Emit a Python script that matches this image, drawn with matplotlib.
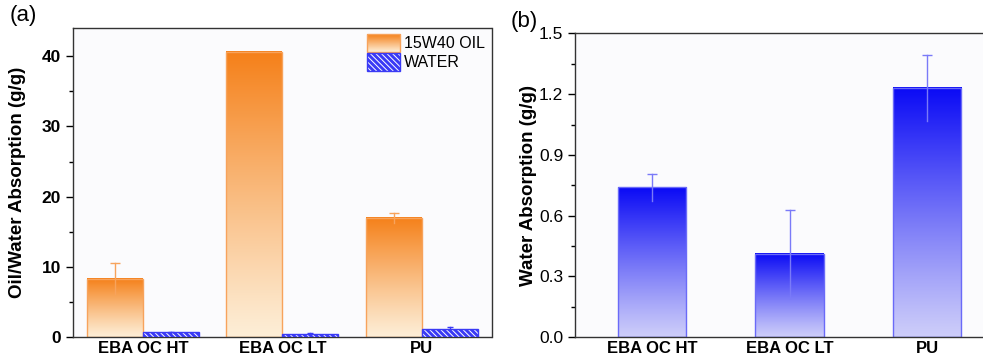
import matplotlib.pyplot as plt
import numpy as np
from matplotlib.patches import Rectangle
from matplotlib.ticker import MultipleLocator

plt.rcParams['font.family'] = ['Liberation Sans', 'DejaVu Sans']
plt.rcParams['hatch.linewidth'] = 0.7

samples = ['EBA OC HT', 'EBA OC LT', 'PU']
oil = [8.35, 40.6, 17.0]
oil_err = [2.15, 0.0, 0.7]
water = [0.74, 0.41, 1.23]
water_err = [0.067, 0.217, 0.165]

orange_top = np.array([245, 128, 25]) / 255
orange_bot = np.array([253, 238, 215]) / 255
blue_top = np.array([10, 10, 245]) / 255
blue_bot = np.array([205, 205, 250]) / 255


def grad_bar(ax, x0, w, h, top, bot, edge, z=2):
    t = np.linspace(0, 1, 200)[:, None] ** 1.1
    img = bot[None, :] + (top - bot)[None, :] * t
    ax.imshow(img[:, None, :], extent=[x0, x0 + w, 0, h], origin='lower', aspect='auto',
              zorder=z, interpolation='bilinear')
    ax.add_patch(Rectangle((x0, 0), w, h, fill=False, ec=edge, lw=1.0, zorder=z + 0.1))


def top_err(ax, x, y, e, color, cap):
    ax.plot([x, x], [y - e, y + e], color=color, lw=1.0, zorder=5)
    ax.plot([x], [y + e], marker='_', ms=cap, mew=1.0, color=color, zorder=5)


fig = plt.figure(figsize=(9.83, 3.57), dpi=100)
ax1 = fig.add_axes([0.0743, 0.0552, 0.4257, 0.8664])
ax2 = fig.add_axes([0.585, 0.0552, 0.4364, 0.8515])

x = np.arange(1, 4)

# (a) oil / water
bw = 0.4
for i in range(3):
    grad_bar(ax1, x[i] - bw, bw, oil[i], orange_top, orange_bot, '#f7a35c')
    if oil_err[i] > 0:
        top_err(ax1, x[i] - bw / 2, oil[i], oil_err[i], '#f7a35c', 7)
    ax1.bar(x[i] + bw / 2, water[i], bw, color='#3a3af5', edgecolor='white',
            hatch='\\\\\\\\\\\\', lw=0, zorder=3)
    ax1.add_patch(Rectangle((x[i], 0), bw, water[i], fill=False, ec='#3a3af5', lw=1.0, zorder=3.1))
    top_err(ax1, x[i] + bw / 2, water[i], water_err[i], '#3a3af5', 5)

# legend drawn by hand so the swatches can keep the gradient / hatch
lx0, lx1 = 0.702, 0.781
g = np.linspace(0, 1, 50)[:, None]
lg = orange_bot[None, :] + (orange_top - orange_bot)[None, :] * g
ax1.imshow(lg[:, None, :], extent=[lx0, lx1, 0.923, 0.98], origin='lower', aspect='auto',
           transform=ax1.transAxes, zorder=6)
ax1.add_patch(Rectangle((lx0, 0.923), lx1 - lx0, 0.057, transform=ax1.transAxes, fill=False,
                        ec='#f7a35c', lw=1.0, zorder=7))
ax1.add_patch(Rectangle((lx0, 0.862), lx1 - lx0, 0.057, transform=ax1.transAxes,
                        fc='#3a3af5', ec='white', hatch='\\\\\\\\\\\\', lw=0, zorder=6))
ax1.add_patch(Rectangle((lx0, 0.862), lx1 - lx0, 0.057, transform=ax1.transAxes, fill=False,
                        ec='#3a3af5', lw=1.0, zorder=7))
ax1.text(0.791, 0.951, '15W40 OIL', transform=ax1.transAxes, va='center', fontsize=11.5)
ax1.text(0.791, 0.890, 'WATER', transform=ax1.transAxes, va='center', fontsize=11.5)
ax1.set_xlim(0.5, 3.5)
ax1.set_ylim(0, 44)
ax1.yaxis.set_major_locator(MultipleLocator(10))
ax1.yaxis.set_minor_locator(MultipleLocator(5))
ax1.set_ylabel('Oil/Water Absorption (g/g)', fontsize=13.5, fontweight='bold')
ax1.yaxis.set_label_coords(-0.112, 0.5)

# (b) water
bw2 = 0.5
for i in range(3):
    grad_bar(ax2, x[i] - bw2 / 2, bw2, water[i], blue_top, blue_bot, '#6a6af8')
    top_err(ax2, x[i], water[i], water_err[i], '#7a7af8', 7)
ax2.set_xlim(0.44, 3.56)
ax2.set_ylim(0, 1.5)
ax2.yaxis.set_major_locator(MultipleLocator(0.3))
ax2.yaxis.set_minor_locator(MultipleLocator(0.15))
ax2.set_ylabel('Water Absorption (g/g)', fontsize=13.5, fontweight='bold')
ax2.yaxis.set_label_coords(-0.088, 0.5)

for ax, bold in ((ax1, 'bold'), (ax2, 'normal')):
    ax.set_facecolor('#fbfbfd')
    ax.set_xticks(x)
    ax.set_xticklabels(samples, fontsize=12, fontweight='bold')
    ax.tick_params(axis='x', length=0, pad=3)
    ax.tick_params(axis='y', which='major', direction='out', length=5, width=1, labelsize=12.5)
    ax.tick_params(axis='y', which='minor', direction='out', length=3, width=1)
    for lab in ax.get_yticklabels():
        lab.set_fontweight(bold)
    for s in ax.spines.values():
        s.set_color('#333333')
        s.set_linewidth(1.0)

fig.text(0.010, 0.94, '(a)', fontsize=16)
fig.text(0.519, 0.925, '(b)', fontsize=16)

fig.savefig('out.png', dpi=100)
